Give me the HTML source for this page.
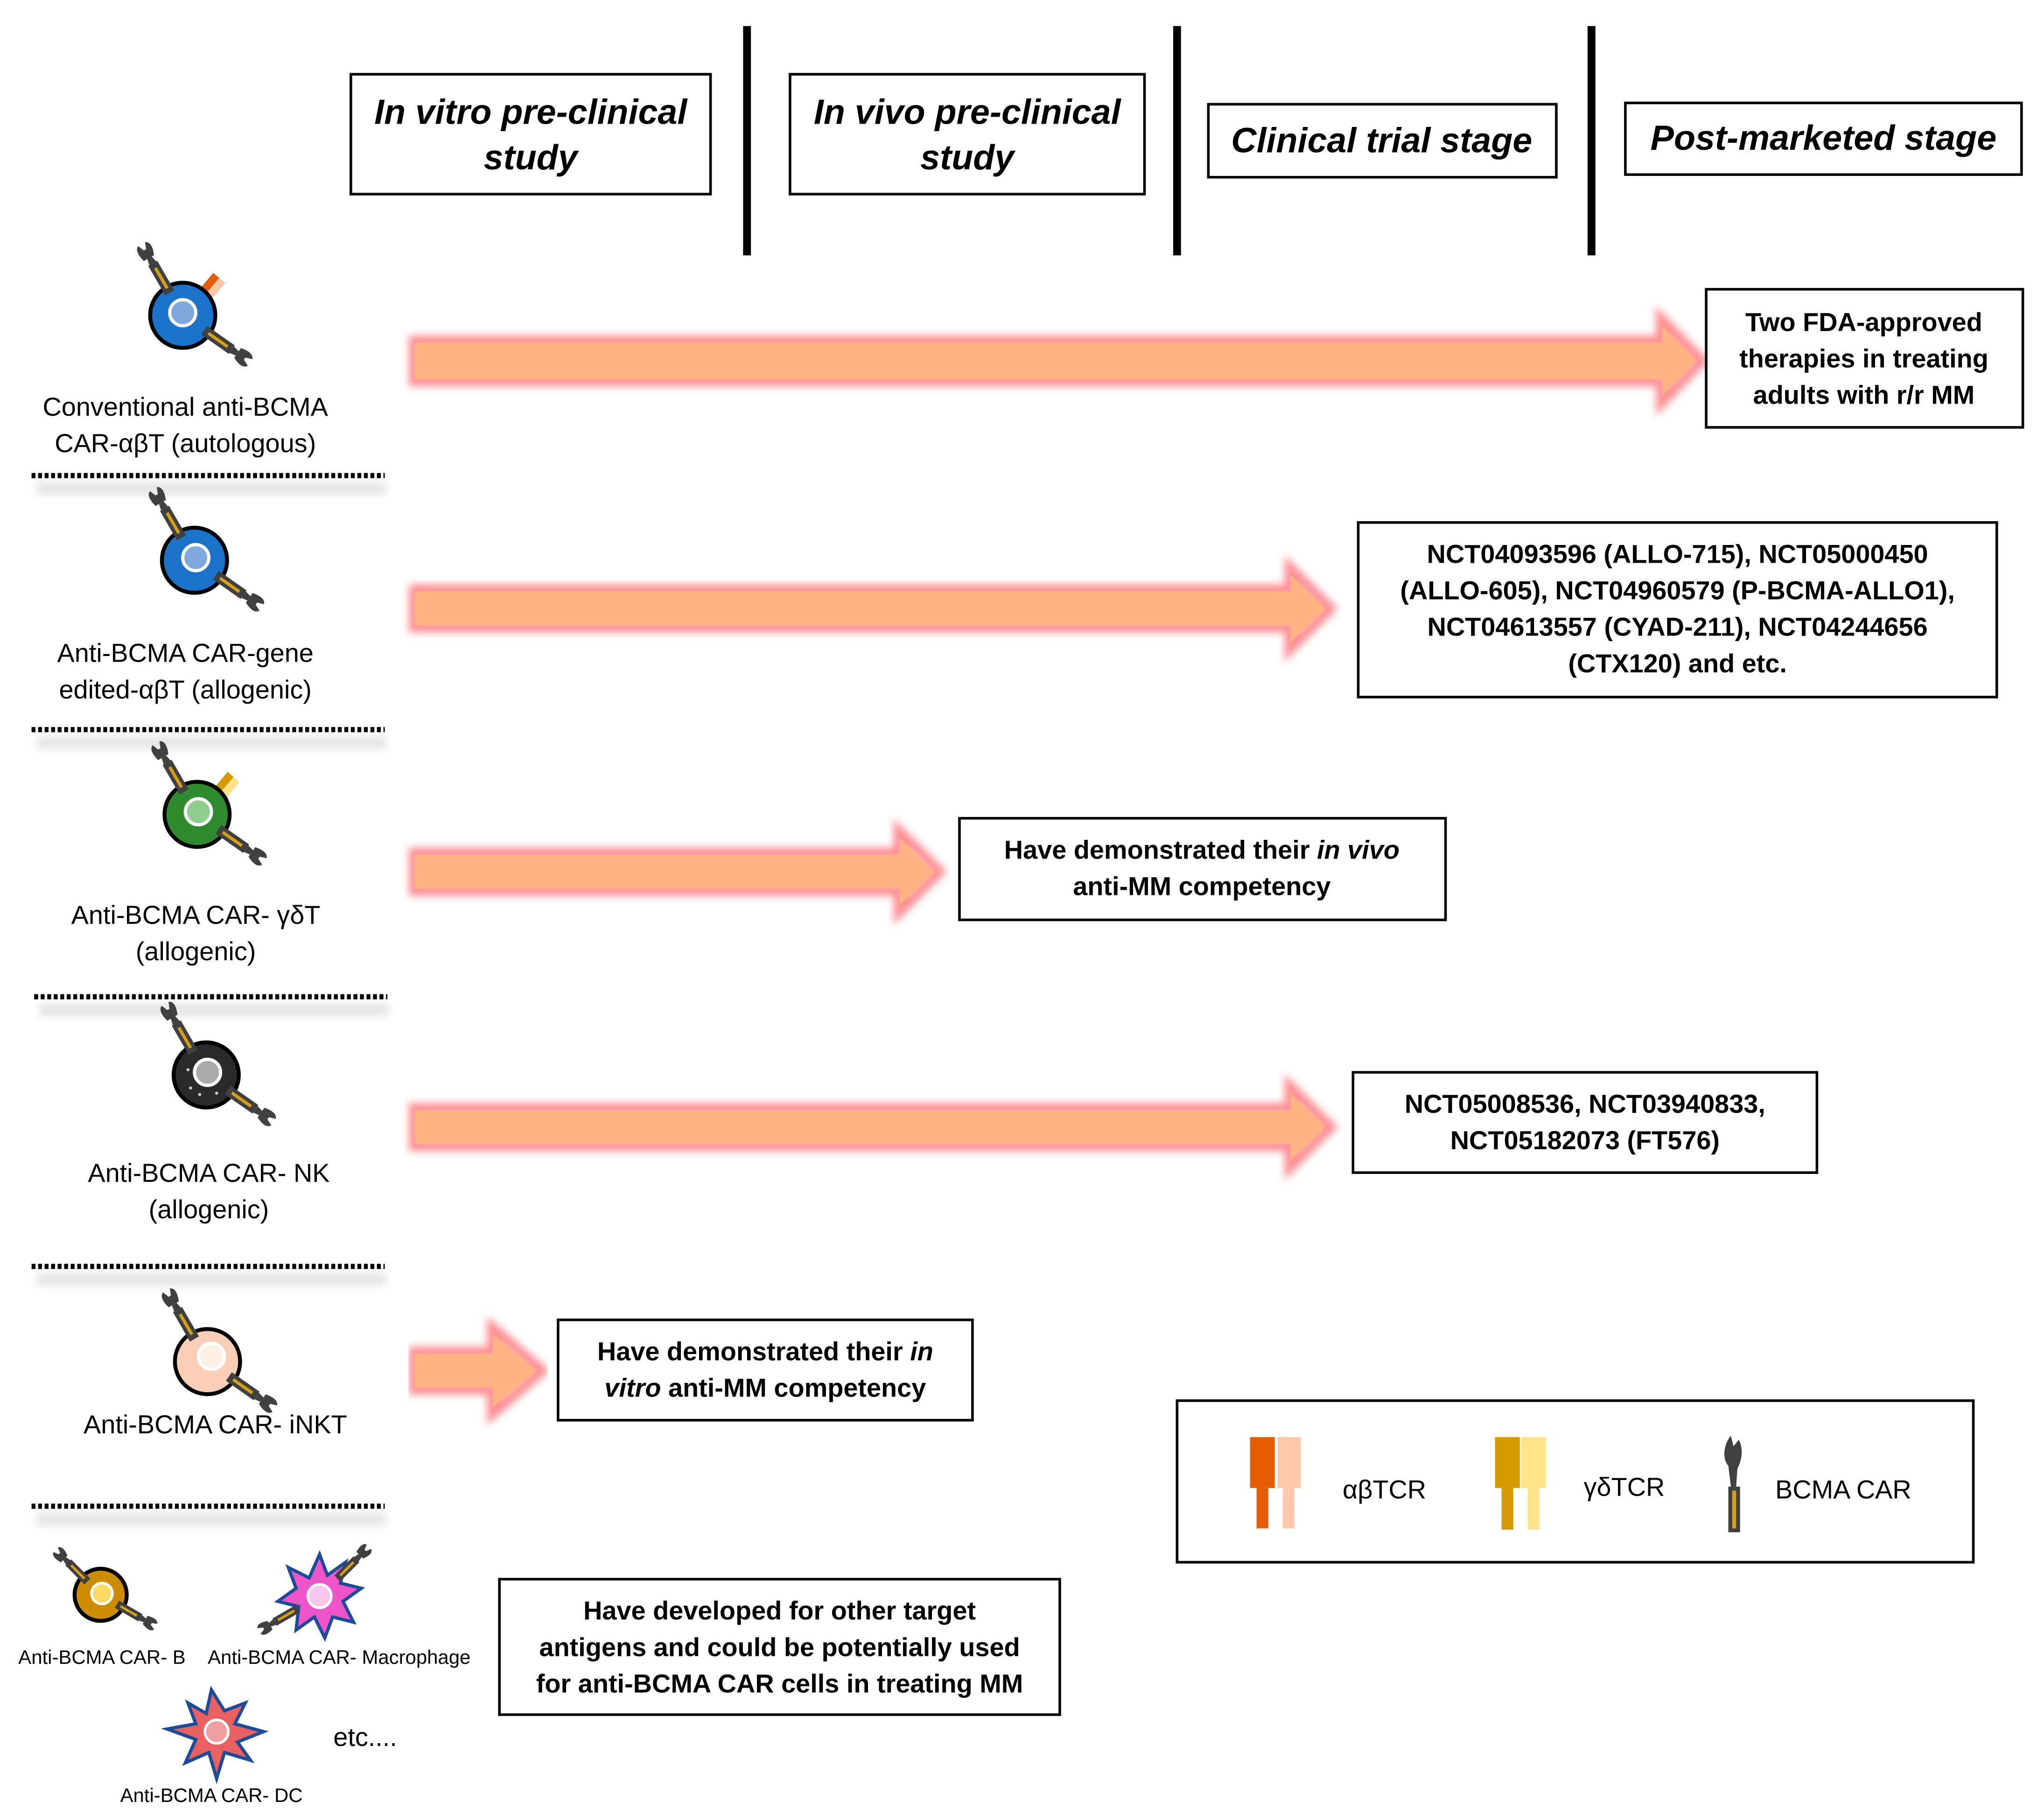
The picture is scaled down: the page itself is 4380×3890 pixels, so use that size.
<!DOCTYPE html>
<html><head><meta charset="utf-8"><style>
html,body{margin:0;padding:0;background:#fff;}
svg{display:block;}
text{font-family:"Liberation Sans","DejaVu Sans",sans-serif;}
</style></head><body>
<svg width="4380" height="3890" viewBox="0 0 1568 1393" xmlns="http://www.w3.org/2000/svg">
<defs>
<filter id="glow" x="-5%" y="-50%" width="110%" height="200%"><feGaussianBlur stdDeviation="3"/></filter>
<filter id="sh" x="-10%" y="-200%" width="120%" height="500%"><feGaussianBlur stdDeviation="3"/></filter>
<g id="car">
  <path d="M-2,-5 L2,-5 L3,0 L-3,0 Z" fill="#404040"/>
  <rect x="-4" y="0" width="8" height="26" fill="#404040"/>
  <rect x="-1.2" y="4" width="2.4" height="18" fill="#d4a017"/>
  <path d="M-5,-5 C-7,-12 -6,-16 -3,-17 L-1,-12 L1,-12 L3,-17 C6,-16 7,-12 4,-5 Z" fill="#404040"/>
</g>
</defs>
<rect width="1568" height="1393" fill="#fff"/>

<g fill="none" stroke="#000" stroke-width="2">
<rect x="269" y="57" width="276" height="92"/>
<rect x="606" y="57" width="272" height="92"/>
<rect x="927" y="80" width="267" height="56"/>
<rect x="1247" y="79" width="304" height="55"/>
</g>
<g font-weight="bold" font-style="italic" font-size="27" text-anchor="middle" fill="#000">
<text x="407" y="95">In vitro pre-clinical</text><text x="407" y="130">study</text>
<text x="742" y="95">In vivo pre-clinical</text><text x="742" y="130">study</text>
<text x="1060" y="117">Clinical trial stage</text>
<text x="1399" y="115">Post-marketed stage</text>
</g>
<g fill="#000">
<rect x="570" y="20" width="6" height="176"/>
<rect x="900" y="20" width="6" height="176"/>
<rect x="1218" y="20" width="6" height="176"/>
</g>

<g>
<path d="M318,262 H1275 V246 L1305,277 L1275,308 V292 H318 Z" fill="none" stroke="#ff8f94" stroke-width="9" filter="url(#glow)"/>
<path d="M318,263 H1275 V250 L1302,277 L1275,304 V291 H318 Z" fill="#ffb385"/>
<path d="M318,453 H990 V437 L1020,467 L990,497 V481 H318 Z" fill="none" stroke="#ff8f94" stroke-width="9" filter="url(#glow)"/>
<path d="M318,454 H990 V441 L1017,467 L990,493 V480 H318 Z" fill="#ffb385"/>
<path d="M318,655 H690 V639 L720,669 L690,699 V683 H318 Z" fill="none" stroke="#ff8f94" stroke-width="9" filter="url(#glow)"/>
<path d="M318,656 H690 V643 L717,669 L690,695 V682 H318 Z" fill="#ffb385"/>
<path d="M318,851 H990 V835 L1020,865 L990,895 V879 H318 Z" fill="none" stroke="#ff8f94" stroke-width="9" filter="url(#glow)"/>
<path d="M318,852 H990 V839 L1017,865 L990,891 V878 H318 Z" fill="#ffb385"/>
<path d="M318,1038 H378 V1020 L415,1052 L378,1084 V1066 H318 Z" fill="none" stroke="#ff8f94" stroke-width="9" filter="url(#glow)"/>
<path d="M318,1039 H378 V1024 L412,1052 L378,1080 V1065 H318 Z" fill="#ffb385"/>
</g>

<g fill="#fff" stroke="#000" stroke-width="2">
<rect x="1309" y="222" width="243" height="106"/>
<rect x="1042" y="401" width="490" height="134"/>
<rect x="736" y="628" width="373" height="78"/>
<rect x="1038" y="823" width="356" height="77"/>
<rect x="428" y="1013" width="318" height="77"/>
<rect x="383" y="1212" width="430" height="104"/>
<rect x="903" y="1075" width="611" height="124"/>
</g>
<g font-weight="bold" font-size="20" text-anchor="middle" fill="#000">
<text x="1430" y="254">Two FDA-approved</text>
<text x="1430" y="282">therapies in treating</text>
<text x="1430" y="310">adults with r/r MM</text>
<text x="1287" y="432">NCT04093596 (ALLO-715), NCT05000450</text>
<text x="1287" y="460">(ALLO-605), NCT04960579 (P-BCMA-ALLO1),</text>
<text x="1287" y="488">NCT04613557 (CYAD-211), NCT04244656</text>
<text x="1287" y="516">(CTX120) and etc.</text>
<text x="922" y="659">Have demonstrated their <tspan font-style="italic">in vivo</tspan></text>
<text x="922" y="687">anti-MM competency</text>
<text x="1216" y="854">NCT05008536, NCT03940833,</text>
<text x="1216" y="882">NCT05182073 (FT576)</text>
<text x="587" y="1044">Have demonstrated their <tspan font-style="italic">in</tspan></text>
<text x="587" y="1072"><tspan font-style="italic">vitro</tspan> anti-MM competency</text>
<text x="598" y="1243">Have developed for other target</text>
<text x="598" y="1271">antigens and could be potentially used</text>
<text x="598" y="1299">for anti-BCMA CAR cells in treating MM</text>
</g>

<g stroke="#000" stroke-width="4" stroke-dasharray="3,2">
<line x1="24" y1="365" x2="295" y2="365"/>
<line x1="24" y1="560" x2="295" y2="560"/>
<line x1="26" y1="765" x2="297" y2="765"/>
<line x1="24" y1="972" x2="295" y2="972"/>
<line x1="24" y1="1156" x2="295" y2="1156"/>
</g>
<g fill="#ccc" opacity="0.5" filter="url(#sh)">
<rect x="28" y="370" width="268" height="10"/>
<rect x="28" y="565" width="268" height="10"/>
<rect x="30" y="770" width="268" height="10"/>
<rect x="28" y="977" width="268" height="10"/>
<rect x="28" y="1161" width="268" height="10"/>
</g>

<g font-size="20" text-anchor="middle" fill="#000">
<text x="142" y="319">Conventional anti-BCMA</text>
<text x="142" y="347">CAR-αβT (autologous)</text>
<text x="142" y="508">Anti-BCMA CAR-gene</text>
<text x="142" y="536">edited-αβT (allogenic)</text>
<text x="150" y="709">Anti-BCMA CAR- γδT</text>
<text x="150" y="737">(allogenic)</text>
<text x="160" y="907">Anti-BCMA CAR- NK</text>
<text x="160" y="935">(allogenic)</text>
<text x="165" y="1100">Anti-BCMA CAR- iNKT</text>
</g>
<g font-size="15" text-anchor="middle" fill="#000">
<text x="78" y="1277">Anti-BCMA CAR- B</text>
<text x="260" y="1277">Anti-BCMA CAR- Macrophage</text>
<text x="162" y="1383">Anti-BCMA CAR- DC</text>
</g>
<text x="280" y="1340" font-size="20" text-anchor="middle">etc....</text>

<g transform="translate(140,242)">
  <g transform="rotate(40)"><rect x="-3" y="-40" width="6" height="18" fill="#e65c00"/><rect x="3" y="-40" width="6" height="18" fill="#ffc8a8"/></g>
  <circle r="25" fill="#1a73c8" stroke="#000" stroke-width="3"/>
  <circle cx="0" cy="-2" r="10" fill="#7fa9dc" stroke="#fff" stroke-width="2.5"/>
  <use href="#car" transform="rotate(-30) translate(0,-46)"/>
  <use href="#car" transform="rotate(125) translate(0,-46)"/>
</g>
<g transform="translate(149,430)">
  <circle r="25" fill="#1a73c8" stroke="#000" stroke-width="3"/>
  <circle cx="1" cy="-2" r="10" fill="#7fa9dc" stroke="#fff" stroke-width="2.5"/>
  <use href="#car" transform="rotate(-30) translate(0,-46)"/>
  <use href="#car" transform="rotate(125) translate(0,-46)"/>
</g>
<g transform="translate(151,625)">
  <g transform="rotate(40)"><rect x="-3" y="-40" width="6" height="18" fill="#d49a00"/><rect x="3" y="-40" width="6" height="18" fill="#ffe38a"/></g>
  <circle r="25" fill="#2e8b2e" stroke="#000" stroke-width="3"/>
  <circle cx="1" cy="-2" r="10" fill="#8fce8f" stroke="#fff" stroke-width="2.5"/>
  <use href="#car" transform="rotate(-30) translate(0,-46)"/>
  <use href="#car" transform="rotate(125) translate(0,-46)"/>
</g>
<g transform="translate(158,825)">
  <circle r="25" fill="#2a2a2a" stroke="#000" stroke-width="3"/>
  <circle cx="-12" cy="10" r="1.2" fill="#ccc"/><circle cx="-5" cy="15" r="1.2" fill="#ccc"/><circle cx="8" cy="14" r="1.2" fill="#ccc"/><circle cx="-14" cy="-4" r="1.2" fill="#ccc"/>
  <circle cx="1" cy="-2" r="10" fill="#aaa" stroke="#fff" stroke-width="2.5"/>
  <use href="#car" transform="rotate(-30) translate(0,-46)"/>
  <use href="#car" transform="rotate(125) translate(0,-46)"/>
</g>
<g transform="translate(159,1045)">
  <circle r="25" fill="#fcd0b8" stroke="#000" stroke-width="3"/>
  <circle cx="3" cy="-4" r="10" fill="#fff0e5" stroke="#fff" stroke-width="2.5"/>
  <use href="#car" transform="rotate(-30) translate(0,-46)"/>
  <use href="#car" transform="rotate(125) translate(0,-46)"/>
</g>
<g transform="translate(77,1224)">
  <circle r="20" fill="#cc8e00" stroke="#000" stroke-width="3"/>
  <circle cx="1" cy="-1" r="8" fill="#ffd966" stroke="#fff" stroke-width="2"/>
  <g transform="scale(0.8)"><use href="#car" transform="rotate(-45) translate(0,-44)"/><use href="#car" transform="rotate(120) translate(0,-44)"/></g>
</g>
<g transform="translate(245,1225)">
  <path d="M0,-32 L6,-16 L20,-26 L16,-10 L32,-6 L18,4 L26,20 L10,16 L4,32 L-4,16 L-18,26 L-16,8 L-32,4 L-18,-6 L-24,-22 L-8,-14 Z" fill="#ee55c8" stroke="#1a4c9a" stroke-width="2.5"/>
  <circle r="9" fill="#f8c8ec" stroke="#fff" stroke-width="2"/>
  <g transform="scale(0.8)"><use href="#car" transform="rotate(45) translate(0,-50)"/><use href="#car" transform="rotate(-120) translate(0,-50)"/></g>
</g>
<g transform="translate(166,1329)">
  <path d="M-4,-32 L6,-16 L22,-22 L14,-6 L36,0 L16,8 L26,22 L6,16 L0,36 L-6,16 L-24,24 L-16,6 L-38,-2 L-16,-6 L-22,-22 L-8,-14 Z" fill="#e86060" stroke="#1a4c9a" stroke-width="2.5"/>
  <circle r="9" fill="#f0a0a0" stroke="#fff" stroke-width="2"/>
</g>

<rect x="959" y="1103" width="19" height="39" fill="#e65c00"/>
<rect x="980" y="1103" width="18" height="39" fill="#ffc8a8"/>
<rect x="964" y="1142" width="9" height="31" fill="#e65c00"/>
<rect x="984" y="1142" width="9" height="31" fill="#ffc8a8"/>
<rect x="1147" y="1103" width="19" height="39" fill="#d49a00"/>
<rect x="1167" y="1103" width="19" height="39" fill="#ffe38a"/>
<rect x="1152" y="1142" width="9" height="32" fill="#d49a00"/>
<rect x="1172" y="1142" width="9" height="32" fill="#ffe38a"/>
<rect x="1326" y="1141" width="9" height="35" fill="#404040"/>
<rect x="1329" y="1144" width="3" height="29" fill="#d4a017"/>
<path d="M1328,1141 L1326,1125 C1320,1118 1324,1106 1328,1102 L1330,1110 L1334,1105 C1338,1112 1336,1122 1333,1127 L1332,1141 Z" fill="#404040"/>
<g font-size="20" fill="#000">
<text x="1030" y="1150">αβTCR</text>
<text x="1215" y="1148">γδTCR</text>
<text x="1362" y="1150">BCMA CAR</text>
</g>
</svg>
</body></html>
